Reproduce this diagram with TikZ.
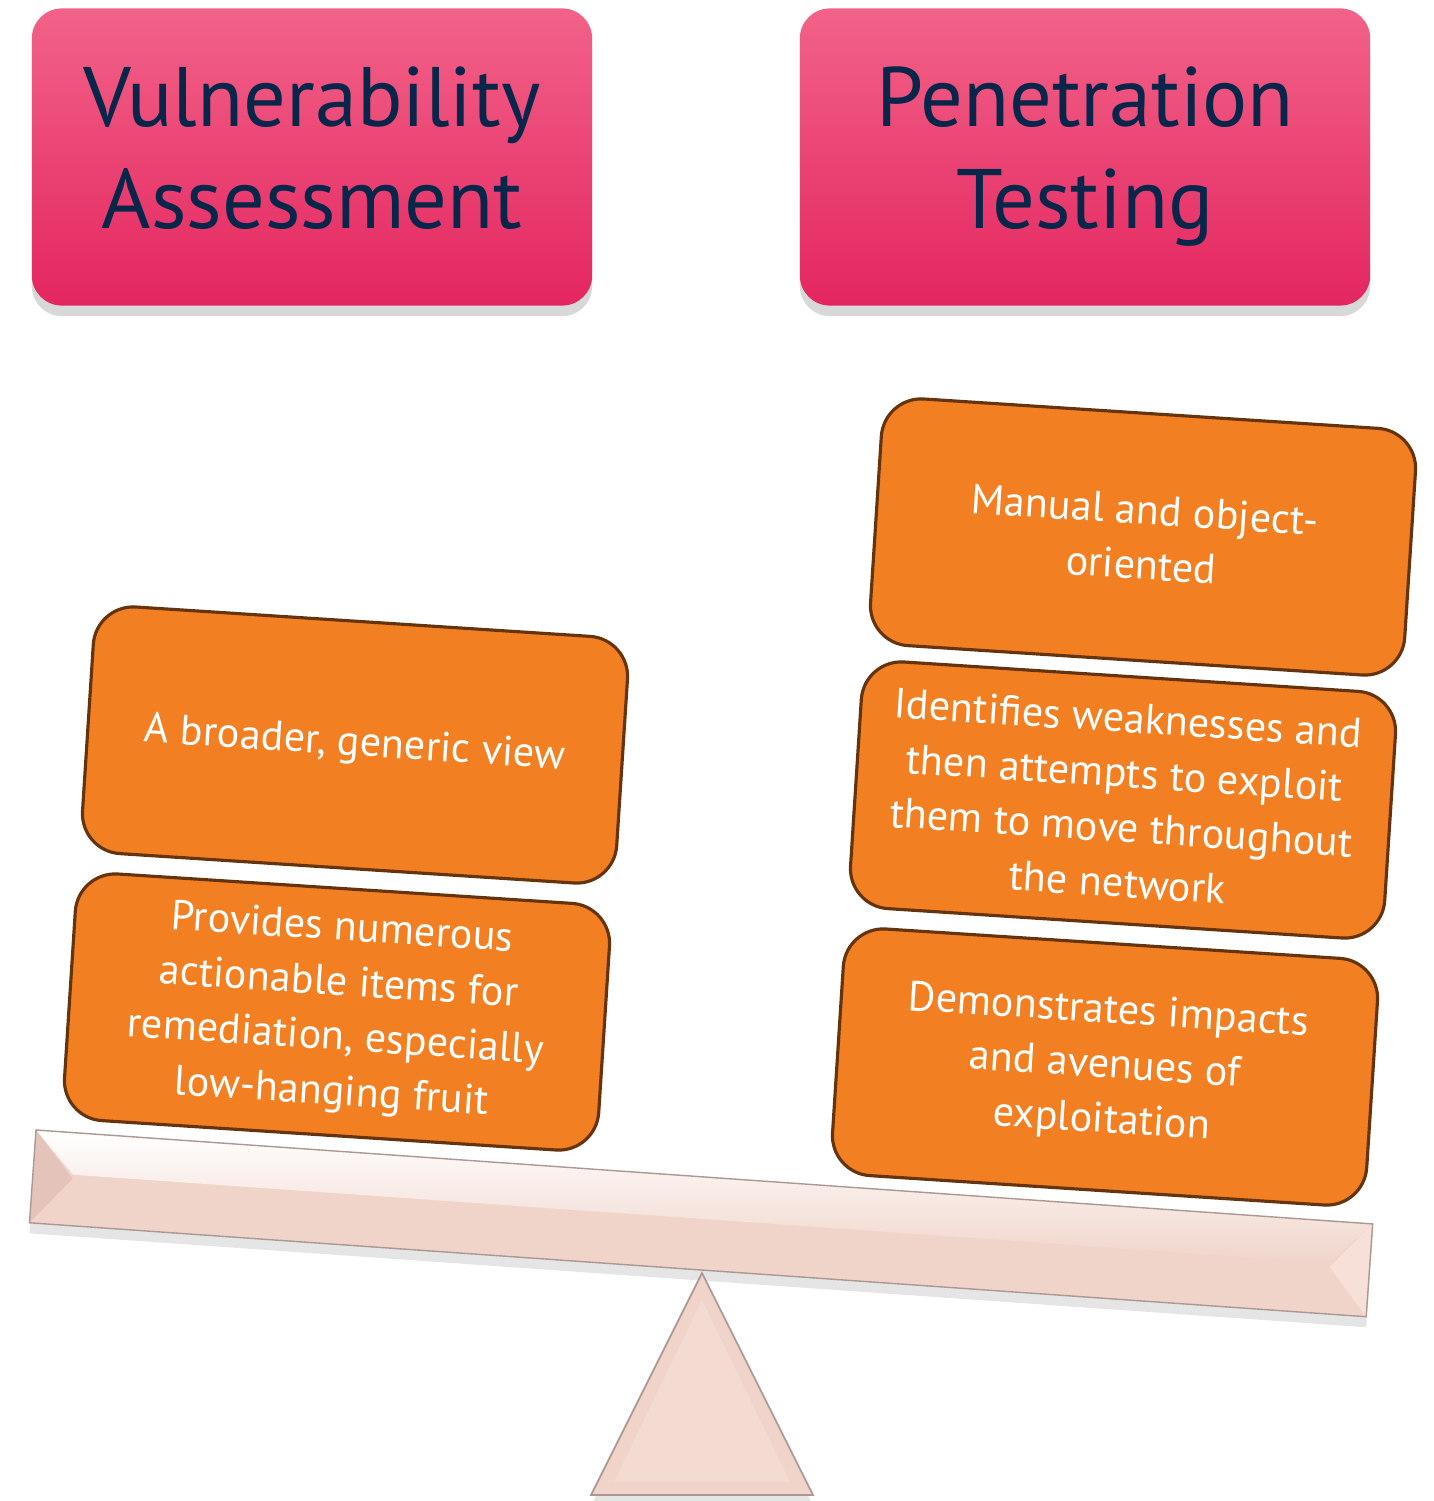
\documentclass[tikz,border=0pt]{standalone}
\usepackage{fontspec}
\setmainfont{PT Sans}
\usetikzlibrary{shadows}

\definecolor{hdrtop}{RGB}{242,98,136}
\definecolor{hdrmid}{RGB}{242,50,108}
\definecolor{hdrbot}{RGB}{228,38,96}
\definecolor{navy}{RGB}{8,38,74}
\definecolor{itemfill}{RGB}{242,128,34}
\definecolor{itemedge}{RGB}{102,52,12}
\definecolor{beam}{RGB}{240,212,202}
\definecolor{beamdark}{RGB}{228,196,186}
\definecolor{beamlight}{RGB}{246,224,216}
\definecolor{beamedge}{RGB}{172,152,146}

\tikzset{
  hdr/.style={rounded corners=0.3cm, minimum width=5.6cm, minimum height=2.97cm,
    top color=hdrtop, middle color=hdrmid, bottom color=hdrbot, text=navy,
    align=center, font=\fontsize{24}{29}\selectfont,
    drop shadow={shadow xshift=0pt, shadow yshift=-3pt, opacity=0.3}},
  item/.style={draw=itemedge, line width=0.9pt, fill=itemfill, rounded corners=0.4cm,
    minimum width=5.35cm, minimum height=2.47cm, text=white, align=center,
    font=\fontsize{12}{15.6}\selectfont, rotate=-3.7},
}

\begin{document}
\begin{tikzpicture}[x=0.01cm, y=-0.01cm]
    \useasboundingbox (0,0) rectangle (1433,1501);
    \fill[white] (0,0) rectangle (1433,1501);

    \node[hdr] (va) at (312,157) {\strut Vulnerability\\Assessment\strut};
    \node[hdr, minimum width=5.7cm] (pt) at (1085,157) {\strut Penetration\\Testing\strut};

    \begin{scope}[shift={(36,1130)}, rotate=-4.02]
        \fill[beam, drop shadow={shadow xshift=0pt, shadow yshift=-3pt, opacity=0.2}] (0,0) rectangle (1340,93);
        \shade[top color=white, bottom color=beam] (0,0) -- (1340,0) -- (1300,42) -- (40,42) -- cycle;
        \fill[beamdark] (0,0) -- (40,46) -- (0,93) -- cycle;
        \fill[beamlight] (1340,0) -- (1300,46) -- (1340,93) -- cycle;
        \draw[beamedge, line width=0.4pt] (0,0) rectangle (1340,93);
    \end{scope}

    \fill[beam, drop shadow={shadow xshift=0pt, shadow yshift=-3pt, opacity=0.2}] (702,1273) -- (813,1495) -- (591,1495) -- cycle;
    \fill[beamlight, opacity=0.6] (702,1300) -- (790,1482) -- (614,1482) -- cycle;
    \draw[beamedge, line width=0.5pt] (702,1273) -- (813,1495) -- (591,1495) -- cycle;

    \node[item] (broad) at (355,745) {A broader, generic view};
    \node[item] (prov) at (337,1012) {Provides numerous\\actionable items for\\remediation, especially\\low-hanging fruit};

    \node[item] (manual) at (1143,537) {Manual and object-\\oriented};
    \node[item] (ident) at (1123,800) {Identifies weaknesses and\\then attempts to exploit\\them to move throughout\\the network};
    \node[item] (demo) at (1105,1067) {Demonstrates impacts\\and avenues of\\exploitation};
\end{tikzpicture}
\end{document}
